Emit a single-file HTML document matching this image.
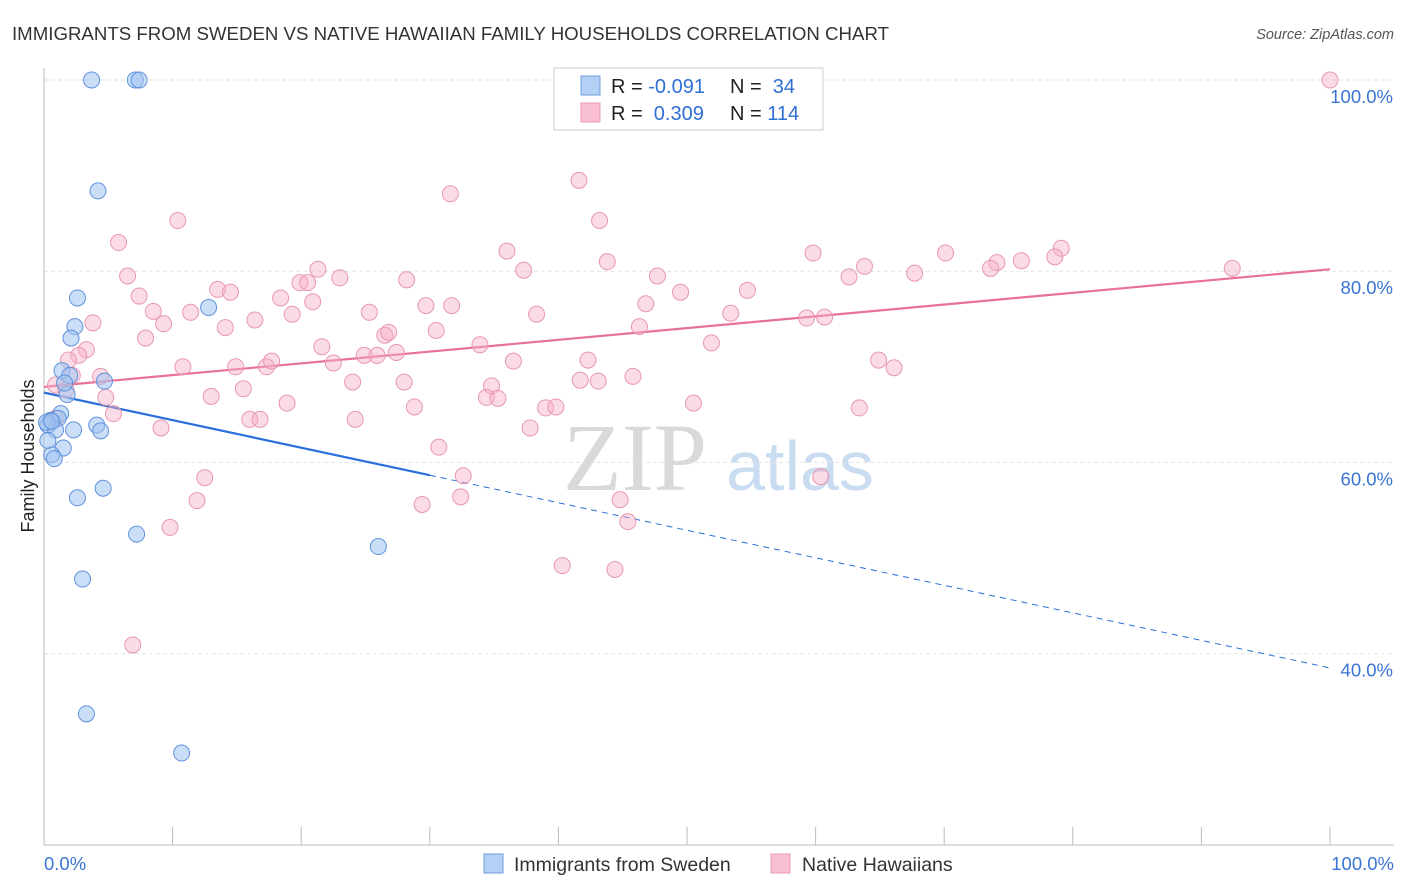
<!DOCTYPE html>
<html><head><meta charset="utf-8">
<style>
body{margin:0;background:#fff;font-family:"Liberation Sans",Arial,sans-serif;}
#wrap{position:relative;width:1406px;height:892px;overflow:hidden;}
svg text{font-family:"Liberation Sans",Arial,sans-serif;}
</style></head>
<body>
<div id="wrap">
<svg id="chart" width="1406" height="892">
  <text x="12" y="40" font-size="18" fill="#333" textLength="877" lengthAdjust="spacingAndGlyphs">IMMIGRANTS FROM SWEDEN VS NATIVE HAWAIIAN FAMILY HOUSEHOLDS CORRELATION CHART</text>
  <text x="1394" y="39" font-size="14.5" fill="#555" font-style="italic" text-anchor="end">Source: ZipAtlas.com</text>
  <text x="635" y="490" font-size="96" fill="#d9d9d9" text-anchor="middle" style="font-family:'Liberation Serif',serif">ZIP</text>
  <text x="800" y="490" font-size="70" fill="#c9dcf2" text-anchor="middle">atlas</text>
  <g id="grid"></g>
  <g id="axes"></g>
  <g id="lines"></g>
  <g id="points"></g>
  <text transform="translate(34,456) rotate(-90)" font-size="18" fill="#222" text-anchor="middle">Family Households</text>
  <g>
    <rect x="554" y="68" width="269" height="62" fill="#fff" stroke="#ccc"/>
    <rect x="581" y="76" width="19" height="19" fill="#b4d0f4" stroke="#6d9de0"/>
    <rect x="581" y="103" width="19" height="19" fill="#f9c0d1" stroke="#e99ab4"/>
    <text x="611" y="93" font-size="20" fill="#222">R = <tspan fill="#2f6fd6">-0.091</tspan></text>
    <text x="730" y="93" font-size="20" fill="#222">N = <tspan fill="#2f6fd6">&#160;34</tspan></text>
    <text x="611" y="120" font-size="20" fill="#222">R = <tspan fill="#2f6fd6">&#160;0.309</tspan></text>
    <text x="730" y="120" font-size="20" fill="#222">N = <tspan fill="#2f6fd6">114</tspan></text>
  </g>
  <g>
    <rect x="484" y="854" width="19" height="19" fill="#b4d0f4" stroke="#6d9de0"/>
    <text x="514" y="871" font-size="19.5" fill="#333">Immigrants from Sweden</text>
    <rect x="771" y="854" width="19" height="19" fill="#f9c0d1" stroke="#e99ab4"/>
    <text x="802" y="871" font-size="19.5" fill="#333">Native Hawaiians</text>
  </g>
</svg>
</div>
<script>
const yTicks=[100,80,60,40];
const yTickLabels=["100.0%","80.0%","60.0%","40.0%"];
const xTickLabels=["0.0%","100.0%"];
const swedenX=[3.7,7.1,7.4,4.2,2.6,2.4,2.1,12.8,1.4,2.0,1.8,1.6,4.7,1.3,1.1,0.5,0.3,0.9,2.3,4.1,4.4,1.5,0.6,0.8,2.6,4.6,7.2,3.0,3.3,10.7,26.0,0.3,0.2,0.6];
const swedenY=[100,100,100,88.4,77.2,74.2,73.0,76.2,69.6,69.1,67.1,68.3,68.5,65.1,64.6,64.4,63.9,63.4,63.4,63.9,63.3,61.5,60.8,60.4,56.3,57.3,52.5,47.8,33.7,29.6,51.2,62.3,64.2,64.3];
const hawaiiX=[100,41.6,31.6,43.2,10.4,5.8,36.0,59.8,70.1,79.1,78.6,6.5,21.3,23.0,37.3,43.8,47.7,63.8,62.6,67.7,74.1,76.0,73.6,92.4,28.2,19.9,20.5,13.5,14.5,7.4,18.4,20.9,29.7,31.7,49.5,54.7,46.8,8.5,11.4,25.3,38.3,53.4,19.3,3.8,9.3,16.4,14.1,46.3,59.3,60.7,7.9,26.5,26.8,30.5,33.9,21.6,51.9,3.3,2.7,24.9,25.9,27.4,1.9,10.8,14.9,17.3,17.7,22.5,36.5,42.3,64.9,66.1,4.4,2.2,24.0,28.0,15.5,34.8,41.7,43.1,45.8,0.9,1.7,4.8,13.0,18.9,28.8,34.4,35.3,39.0,39.8,50.5,63.4,5.4,16.0,16.8,24.2,0.9,9.1,37.8,30.7,32.6,12.5,60.4,32.4,11.9,44.8,29.4,45.4,9.8,40.3,44.4,6.9];
const hawaiiY=[100,89.5,88.1,85.3,85.3,83.0,82.1,81.9,81.9,82.4,81.5,79.5,80.2,79.3,80.1,81.0,79.5,80.5,79.4,79.8,80.9,81.1,80.3,80.3,79.1,78.8,78.8,78.1,77.8,77.4,77.2,76.8,76.4,76.4,77.8,78.0,76.6,75.8,75.7,75.7,75.5,75.6,75.5,74.6,74.5,74.9,74.1,74.2,75.1,75.2,73.0,73.3,73.6,73.8,72.3,72.1,72.5,71.8,71.2,71.2,71.2,71.5,70.7,70.0,70.0,70.0,70.6,70.4,70.6,70.7,70.7,69.9,69.0,69.1,68.4,68.4,67.7,68.0,68.6,68.5,69.0,68.1,67.6,66.8,66.9,66.2,65.8,66.8,66.7,65.7,65.8,66.2,65.7,65.1,64.5,64.5,64.5,64.6,63.6,63.6,61.6,58.6,58.4,58.5,56.4,56.0,56.1,55.6,53.8,53.2,49.2,48.8,40.9];
const swedenTrend=[67.3,38.5];
const hawaiiTrend=[67.9,80.2];
const swedenSolidEnd=30;

const NS="http://www.w3.org/2000/svg";
const X=v=>44+v*12.86;
const Y=v=>80+(100-v)*9.56;
function mk(tag,attrs,parent){const e=document.createElementNS(NS,tag);for(const k in attrs)e.setAttribute(k,attrs[k]);parent.appendChild(e);return e;}
const grid=document.getElementById('grid'),axes=document.getElementById('axes'),lines=document.getElementById('lines'),pts=document.getElementById('points');
yTicks.forEach((t,i)=>{
  const g=mk('line',{x1:44,x2:1394,y1:Y(t),y2:Y(t),stroke:'#e2e2e2','stroke-dasharray':'4,3'},grid);
  
  
  const l=mk('text',{x:1393,y:Y(t)+23,'font-size':18.5,fill:'#3a74d4','text-anchor':'end'},grid);
  l.textContent=yTickLabels[i];
  
  
});
const xa=mk('line',{x1:44,x2:1394,y1:845,y2:845,stroke:'#bbb'},axes);


const ya=mk('line',{x1:44,x2:44,y1:68,y2:845,stroke:'#bbb'},axes);


for(let i=0;i<=10;i++){
  const t=mk('line',{x1:X(i*10),x2:X(i*10),y1:827,y2:845,stroke:'#bbb'},axes);
  
  
}
[[0,'start',44],[1,'end',1394]].forEach(([i,a,x])=>{
  const l=mk('text',{x:x,y:870,'font-size':18.5,fill:'#3a74d4','text-anchor':a},axes);
  l.textContent=xTickLabels[i];
  
  
});
function tv(tr,x){return tr[0]+(tr[1]-tr[0])*x/100;}
const s1=mk('line',{x1:X(0),y1:Y(tv(swedenTrend,0)),x2:X(swedenSolidEnd),y2:Y(tv(swedenTrend,swedenSolidEnd)),stroke:'#2a6fdb','stroke-width':2.2},lines);


const s2=mk('line',{x1:X(swedenSolidEnd),y1:Y(tv(swedenTrend,swedenSolidEnd)),x2:X(100),y2:Y(tv(swedenTrend,100)),stroke:'#2a6fdb','stroke-width':1,'stroke-dasharray':'6,5'},lines);


const h1=mk('line',{x1:X(0),y1:Y(tv(hawaiiTrend,0)),x2:X(100),y2:Y(tv(hawaiiTrend,100)),stroke:'#e8719a','stroke-width':2.2},lines);


hawaiiX.forEach((x,i)=>{
  const c=mk('circle',{cx:X(x),cy:Y(hawaiiY[i]),r:8,fill:'rgba(246,176,199,0.45)',stroke:'#e897b2','stroke-width':1},pts);
  
  
});
swedenX.forEach((x,i)=>{
  const c=mk('circle',{cx:X(x),cy:Y(swedenY[i]),r:8,fill:'rgba(160,194,240,0.55)',stroke:'#5f92dc','stroke-width':1},pts);
  
  
});
</script>
</body></html>
